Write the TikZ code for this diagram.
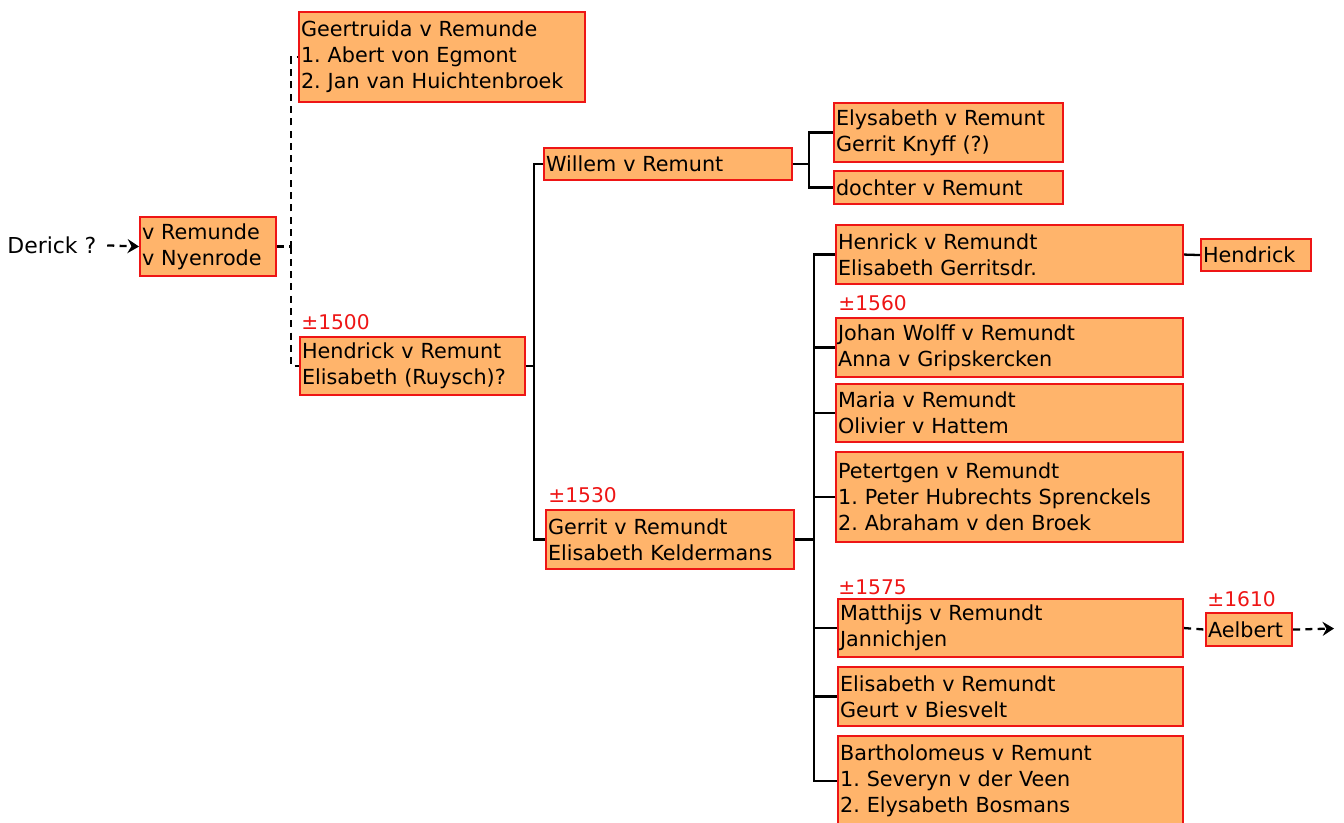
\documentclass[tikz,border=0pt]{standalone}
\usepackage{fontspec}
\setmainfont{DejaVu Sans}
\usepackage{xcolor}
\usepackage{tikz}
\usetikzlibrary{positioning}
\usetikzlibrary{arrows.meta}

\definecolor{boxfill}{HTML}{FFB46B}
\definecolor{boxline}{HTML}{EE1515}
\frenchspacing

\begin{document}
\begin{tikzpicture}[
  person/.style={
    rectangle,
    draw=boxline,
    line width=1.2pt,
    fill=boxfill,
    anchor=north west,
    inner xsep=0.04cm,
    inner ysep=0pt,
    text width=#1,
    align=left,
    font=\fontsize{11.8}{14.8}\selectfont
  },
  yr/.style={
    anchor=west,
    inner sep=0pt,
    text=boxline,
    font=\fontsize{11.5}{13}\selectfont
  },
  link/.style={line width=1.3pt, black},
  dlink/.style={line width=1.3pt, black, dash pattern=on 4pt off 3pt},
  darr/.style={dlink, -{Stealth[length=6.5pt, width=8pt, inset=2.2pt]}}
]
\useasboundingbox (0,0) rectangle (26.88,-16.44);

% ===================== generation 1 =====================
\node[anchor=west, inner sep=0pt, font=\fontsize{12.5}{14}\selectfont] (derick) at (0.14,-4.90) {Derick ?};
\node[person=2.64cm, minimum height=1.18cm] (vr) at (2.78,-4.32) {v Remunde\\v Nyenrode};

\draw[darr, shorten <=6pt] (derick.east) -- (vr.west);

% ===================== generation 2 =====================
\node[person=5.64cm, minimum height=1.80cm] (geert) at (5.96,-0.22) {Geertruida v Remunde\\1. Abert von Egmont\\2. Jan van Huichtenbroek};
\node[person=4.42cm, minimum height=1.16cm] (hendrick) at (5.98,-6.72) {Hendrick v Remunt\\Elisabeth (Ruysch)?};
\node[yr] (y1500) at (6.02,-6.44) {±1500};

\coordinate[xshift=0.28cm] (j1) at (vr.east);
\draw[dlink] (vr.east) -- (j1) |- (geert.west);
\draw[dlink] (j1) |- (hendrick.west);

% ===================== generation 3 =====================
\node[person=4.88cm, minimum height=0.64cm] (willem) at (10.86,-2.94) {Willem v Remunt};
\node[person=4.88cm, minimum height=1.18cm] (gerrit) at (10.90,-10.18) {Gerrit v Remundt\\Elisabeth Keldermans};
\node[yr] (y1530) at (10.96,-9.90) {±1530};

\coordinate[xshift=0.16cm] (j2) at (hendrick.east);
\draw[link] (hendrick.east) -- (j2) |- (willem.west);
\draw[link] (j2) |- (gerrit.west);

% ===================== children of Willem =====================
\node[person=4.50cm, minimum height=1.18cm] (elys) at (16.66,-2.04) {Elysabeth v Remunt\\Gerrit Knyff (?)};
\node[person=4.50cm, minimum height=0.66cm] (dochter) at (16.66,-3.40) {dochter v Remunt};

\coordinate[xshift=0.32cm] (j3) at (willem.east);
\draw[link] (willem.east) -- (j3) |- (elys.west);
\draw[link] (j3) |- (dochter.west);

% ===================== children of Gerrit =====================
\node[person=6.86cm, minimum height=1.18cm] (henrick) at (16.70,-4.48) {Henrick v Remundt\\Elisabeth Gerritsdr.};
\node[person=6.86cm, minimum height=1.18cm] (johan) at (16.70,-6.34) {Johan Wolff v Remundt\\Anna v Gripskercken};
\node[person=6.86cm, minimum height=1.16cm] (maria) at (16.70,-7.66) {Maria v Remundt\\Olivier v Hattem};
\node[person=6.86cm, minimum height=1.80cm] (petert) at (16.70,-9.02) {Petertgen v Remundt\\1. Peter Hubrechts Sprenckels\\2. Abraham v den Broek};
\node[person=6.82cm, minimum height=1.16cm] (matth) at (16.74,-11.96) {Matthijs v Remundt\\Jannichjen};
\node[person=6.82cm, minimum height=1.18cm] (elis) at (16.74,-13.32) {Elisabeth v Remundt\\Geurt v Biesvelt};
\node[person=6.82cm, minimum height=1.80cm] (barth) at (16.74,-14.70) {Bartholomeus v Remunt\\1. Severyn v der Veen\\2. Elysabeth Bosmans};
\node[yr] (y1560) at (16.76,-6.06) {±1560};
\node[yr] (y1575) at (16.76,-11.74) {±1575};

\coordinate[xshift=0.38cm] (j4) at (gerrit.east);
\draw[link] (gerrit.east) -- (j4);
\foreach \k in {henrick,johan,maria,petert,matth,elis,barth}
  \draw[link] (j4) |- (\k.west);

% ===================== grandchildren =====================
\node[person=2.12cm, minimum height=0.64cm] (hendrick2) at (24.00,-4.76) {Hendrick};
\node[person=1.64cm, minimum height=0.66cm] (aelbert) at (24.10,-12.24) {Aelbert};
\node[yr] (y1610) at (24.14,-11.98) {±1610};
\coordinate (aend) at (26.68,-12.57);

\draw[link] (henrick.east) -- (hendrick2.west);
\draw[dlink] (matth.east) -- (aelbert.west);
\draw[darr] (aelbert.east) -- (aend);

\end{tikzpicture}
\end{document}
